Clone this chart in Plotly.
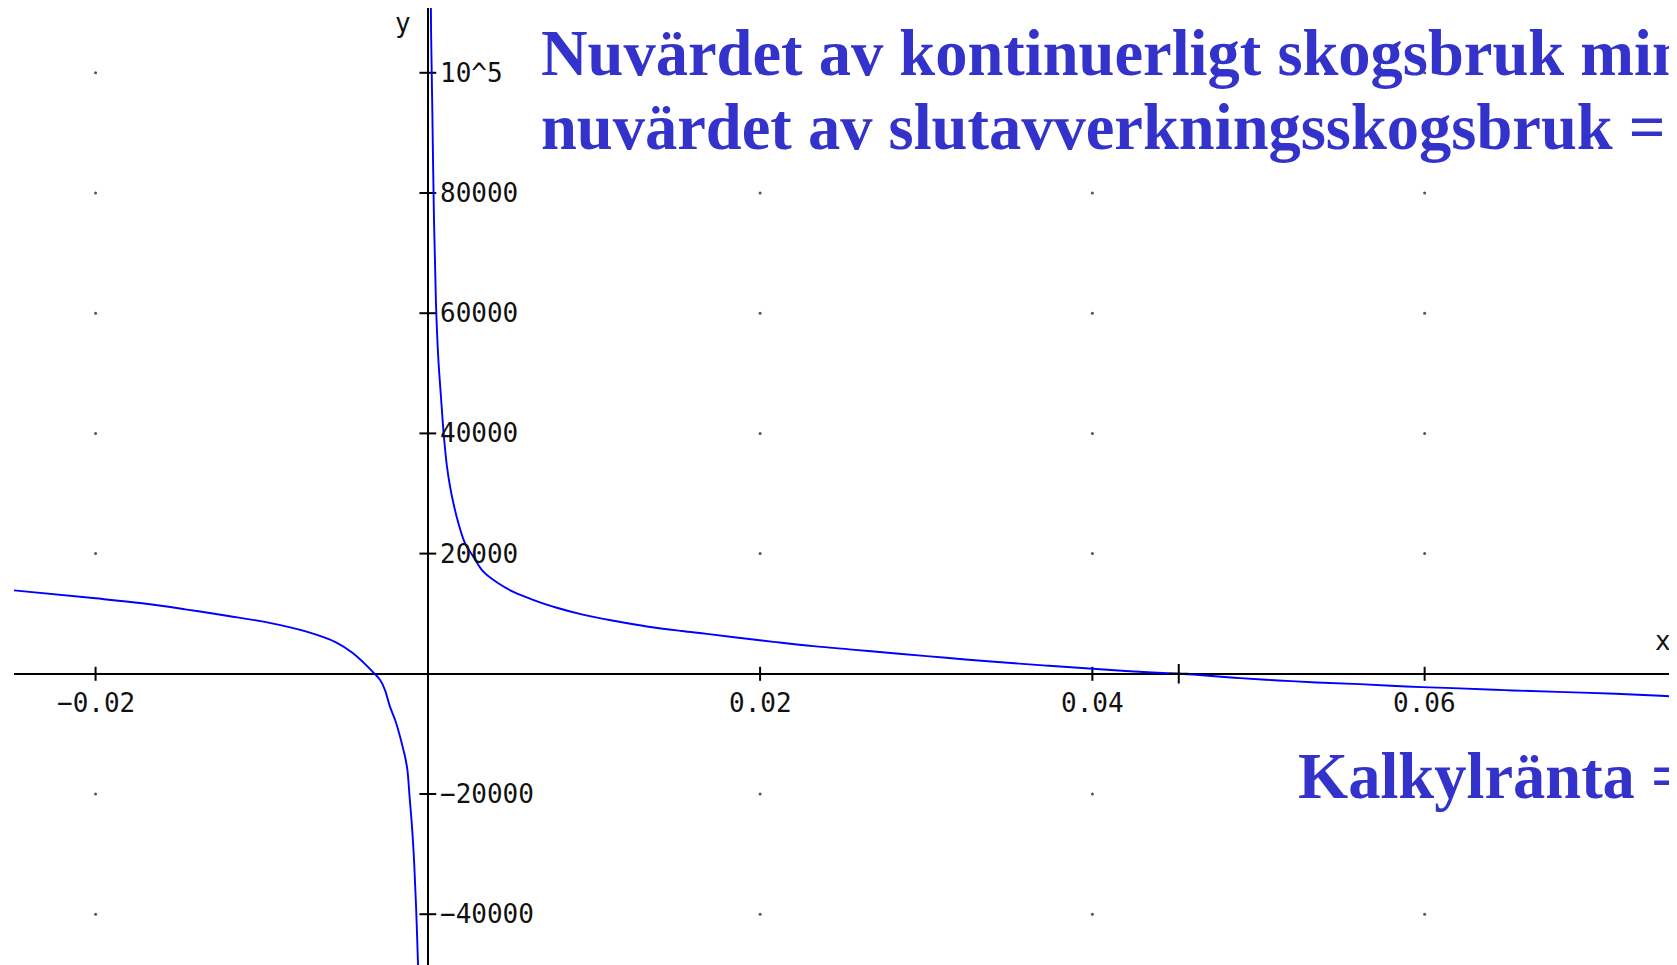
import plotly.graph_objects as go

# ── Data ───────────────────────────────────────────────────────────────────────
# left branch (x < 0)
x_left = [-0.0250, -0.0200, -0.0172, -0.0146, -0.0120, -0.0096, -0.0073, -0.0055,
          -0.0045, -0.0032, -0.00288, -0.00258, -0.00228, -0.00197, -0.00167,
          -0.00147, -0.00137, -0.00123, -0.00111, -0.00095, -0.00083, -0.00071,
          -0.00059, -0.00056]
y_left = [13900, 12560, 11730, 10730, 9620, 8510, 7010, 5200,
          3410, 0, -1000, -2700, -5470, -7690, -10470,
          -12680, -13800, -16000, -20050, -25600, -30980, -38590,
          -48450, -51000]

# right branch (x > 0)
x_right = [0.000178, 0.000193, 0.00027, 0.00037, 0.00049, 0.00063, 0.00079, 0.00096,
           0.00114, 0.00134, 0.00154, 0.00184, 0.00224, 0.00274, 0.00334, 0.00424,
           0.00525, 0.00625, 0.00766, 0.00926, 0.01127, 0.01327, 0.01528, 0.0168,
           0.0187, 0.0208, 0.0232, 0.0257, 0.0282, 0.0312, 0.0341, 0.0374, 0.0409,
           0.0428, 0.0452, 0.0468, 0.0489, 0.0512, 0.0535, 0.0561, 0.0589, 0.0617,
           0.0648, 0.0680, 0.0715, 0.0742, 0.0760]
y_right = [113000, 107100, 93800, 75670, 61530, 52500, 46100, 39730,
           34740, 31130, 28370, 25040, 21710, 19490, 16990, 15060,
           13500, 12400, 11070, 9900, 8790, 7840, 7120, 6650,
           5990, 5320, 4600, 3990, 3380, 2660, 2000, 1330, 670,
           330, 0, -280, -720, -1110, -1440, -1720, -2110, -2390,
           -2720, -3000, -3330, -3660, -3900]

root_x = [0.0452]
root_y = [0]

x_ticks = [-0.02, 0.02, 0.04, 0.06]
x_tick_labels = ["\u22120.02", "0.02", "0.04", "0.06"]
y_ticks = [-40000, -20000, 20000, 40000, 60000, 80000, 100000]
y_tick_labels = ["\u221240000", "\u221220000", "20000", "40000", "60000", "80000", "10^5"]

title_lines = ["Nuvärdet av kontinuerligt skogsbruk minus",
               "nuvärdet av slutavverkningsskogsbruk = y"]
x_caption = "Kalkylränta = x"

# ── Style ──────────────────────────────────────────────────────────────────────
CURVE = "#0000FF"
TEXT_BLUE = "#3333CC"
AXIS = "#000000"
DOT = "#555555"
TICK_FONT = dict(family="DejaVu Sans Mono", size=26, color="#111111")
BIG_FONT = dict(family="Liberation Serif", size=64.5, color=TEXT_BLUE, weight="bold")

# page body has an 8px margin, so the figure is drawn 8px smaller / shifted
OFF = 8
W, H = 1677 - OFF, 965 - OFF
ML, MR, MT, MB = 14 - OFF, 2, 0, 0
X_RANGE = [-0.02491, 0.07507]
Y_RANGE = [-48450, 110780]


def px_x(px):
    # px = pixel position in the page (reference) coordinates
    return (px - OFF - ML) / (W - ML - MR)


def px_y(py):
    return (H - MB - (py - OFF)) / (H - MT - MB)


fig = go.Figure()

# grid dots at tick intersections
gx = [x for x in x_ticks for _ in y_ticks]
gy = [y for _ in x_ticks for y in y_ticks]
fig.add_trace(go.Scatter(x=gx, y=gy, mode="markers",
                         marker=dict(size=3, color=DOT), hoverinfo="skip"))

# tick marks
fig.add_trace(go.Scatter(x=x_ticks, y=[0] * len(x_ticks), mode="markers",
                         marker=dict(symbol="line-ns", size=10,
                                     line=dict(width=2, color=AXIS)),
                         hoverinfo="skip"))
fig.add_trace(go.Scatter(x=[0] * len(y_ticks), y=y_ticks, mode="markers",
                         marker=dict(symbol="line-ew", size=12,
                                     line=dict(width=2, color=AXIS)),
                         hoverinfo="skip"))

# curve
for xs, ys in [(x_left, y_left), (x_right, y_right)]:
    fig.add_trace(go.Scatter(x=xs, y=ys, mode="lines",
                             line=dict(color=CURVE, width=1.9,
                                       shape="spline", smoothing=1.0)))

# root marker
fig.add_trace(go.Scatter(x=root_x, y=root_y, mode="markers",
                         marker=dict(symbol="cross-thin", size=14,
                                     line=dict(width=2, color=AXIS)),
                         hoverinfo="skip"))

# tick labels
for xv, lab in zip(x_ticks, x_tick_labels):
    fig.add_annotation(x=xv, y=0, text=lab, showarrow=False, font=TICK_FONT,
                       xanchor="center", yanchor="middle", yshift=-29)
for yv, lab in zip(y_ticks, y_tick_labels):
    fig.add_annotation(x=0, y=yv, text=lab, showarrow=False, font=TICK_FONT,
                       xanchor="left", yanchor="middle", xshift=10)

# axis names
fig.add_annotation(xref="paper", yref="paper", x=px_x(403), y=px_y(23), text="y",
                   showarrow=False, font=TICK_FONT, xanchor="center", yanchor="middle")
fig.add_annotation(xref="paper", yref="paper", x=px_x(1663), y=px_y(641), text="x",
                   showarrow=False, font=TICK_FONT, xanchor="center", yanchor="middle")

# big blue texts
for txt, cy in zip(title_lines, [53, 128]):
    fig.add_annotation(xref="paper", yref="paper", x=px_x(539), y=px_y(cy), text=txt,
                       showarrow=False, font=BIG_FONT, xanchor="left", yanchor="middle")
fig.add_annotation(xref="paper", yref="paper", x=px_x(1296), y=px_y(777), text=x_caption,
                   showarrow=False, font=BIG_FONT, xanchor="left", yanchor="middle")

fig.update_layout(
    width=W, height=H,
    margin=dict(l=ML, r=MR, t=MT, b=MB),
    paper_bgcolor="white", plot_bgcolor="white",
    showlegend=False,
)
fig.update_xaxes(range=X_RANGE, showgrid=False, showticklabels=False, ticks="",
                 zeroline=True, zerolinecolor=AXIS, zerolinewidth=2)
fig.update_yaxes(range=Y_RANGE, showgrid=False, showticklabels=False, ticks="",
                 zeroline=True, zerolinecolor=AXIS, zerolinewidth=2)

fig.write_html("out.html")
